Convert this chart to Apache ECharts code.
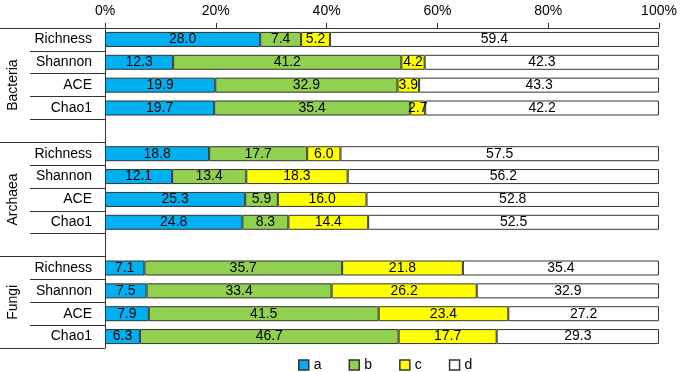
<!DOCTYPE html>
<html>
<head>
<meta charset="utf-8">
<script src="https://cdn.jsdelivr.net/npm/echarts@6/dist/echarts.min.js"></script>
<style>
html,body{margin:0;padding:0;background:#fff;}
#main{width:680px;height:372px;}
</style>
</head>
<body>
<div id="main"></div>
<script type="text/javascript">
	// 类别（空字符串为组间空行）
	var categories = ["Richness","Shannon","ACE","Chao1","","Richness","Shannon","ACE","Chao1","","Richness","Shannon","ACE","Chao1"];
	var groupNames = ["Bacteria","Archaea","Fungi"];
	var groupCenters = [2.5,7.5,12];
	var groupBounds = [0,5,10,14];
	var seriesNames = ["a","b","c","d"];
	var colors = ["#00b0f0","#92d050","#ffff00","#ffffff"];

	var dataA = [28.0,12.3,19.9,19.7,null,18.8,12.1,25.3,24.8,null,7.1,7.5,7.9,6.3];
	var dataB = [7.4,41.2,32.9,35.4,null,17.7,13.4,5.9,8.3,null,35.7,33.4,41.5,46.7];
	var dataC = [5.2,4.2,3.9,2.7,null,6.0,18.3,16.0,14.4,null,21.8,26.2,23.4,17.7];
	var dataD = [59.4,42.3,43.3,42.2,null,57.5,56.2,52.8,52.5,null,35.4,32.9,27.2,29.3];
	var xTicks = [0,20,40,60,80,100];

	var font = "'Liberation Sans', Arial, sans-serif";
	var lineColor = "#333";

	var myChart = echarts.init(document.getElementById("main"));

	var series = [dataA,dataB,dataC,dataD].map(function(d,i){
		return {
			name:seriesNames[i],
			type:'bar',
			stack:'total',
			barWidth:15,
			yAxisIndex:0,
			data:d,
			itemStyle:{color:colors[i],borderColor:lineColor,borderWidth:1},
			label:{
				show:true,
				position:'inside',
				color:'#000',
				fontSize:14,
				fontFamily:font,
				formatter:function(p){ return p.value == null ? '' : p.value.toFixed(1); }
			}
		};
	});

	var option = {
		animation:false,
		textStyle:{fontFamily:font},
		grid:{left:105,right:21,top:28,bottom:24},
		legend:{
			top:353,
			left:293,
			itemWidth:10,
			itemHeight:10,
			itemGap:27,
			icon:'rect',
			textStyle:{fontSize:14,color:'#000',fontFamily:font},
			data:seriesNames.map(function(n,i){
				return {name:n,itemStyle:{color:colors[i],borderColor:lineColor,borderWidth:1.5}};
			})
		},
		xAxis:{
			type:'value',
			position:'top',
			min:0,
			max:100,
			interval:20,
			axisLine:{show:true,lineStyle:{color:lineColor}},
			axisTick:{show:true,length:5,lineStyle:{color:lineColor}},
			splitLine:{show:false},
			axisLabel:{
				fontSize:14,color:'#000',fontFamily:font,margin:10,
				formatter:function(v){ return xTicks.indexOf(v) >= 0 ? v + '%' : ''; }
			}
		},
		yAxis:[
			{
				type:'category',
				inverse:true,
				data:categories,
				axisLine:{show:true,lineStyle:{color:lineColor}},
				axisTick:{show:true,length:75,interval:0,lineStyle:{color:lineColor}},
				axisLabel:{interval:0,fontSize:14,color:'#000',fontFamily:font,margin:13}
			},
			{
				type:'value',
				position:'left',
				inverse:true,
				min:0,
				max:14,
				axisLine:{show:false},
				splitLine:{show:false},
				axisTick:{show:true,length:105,customValues:groupBounds,lineStyle:{color:lineColor}},
				axisLabel:{
					show:true,
					customValues:groupCenters,
					rotate:90,
					margin:85,
					fontSize:14,color:'#000',fontFamily:font,
					formatter:function(v){
						var i = groupCenters.indexOf(v);
						return i >= 0 ? groupNames[i] : '';
					}
				}
			}
		],
		series:series
	};

	myChart.setOption(option);
</script>
</body>
</html>
